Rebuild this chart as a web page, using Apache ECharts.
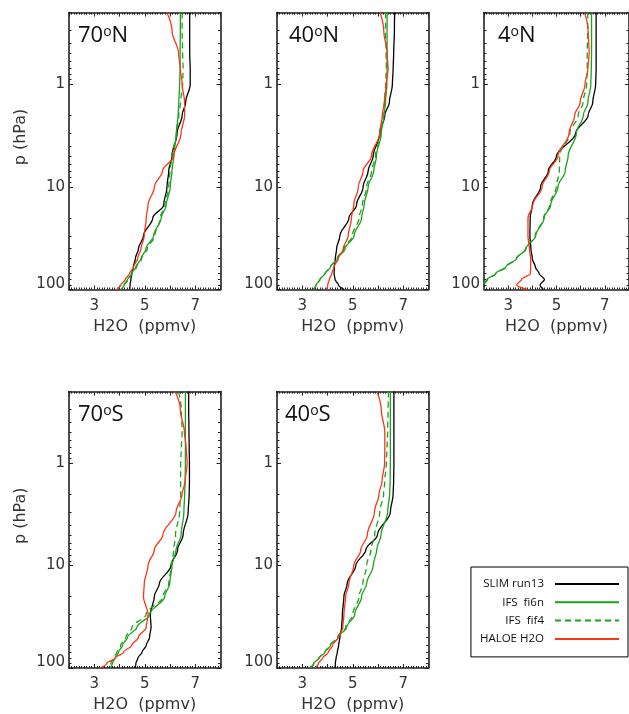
<!DOCTYPE html>
<html>
<head>
<meta charset="utf-8">
<script src="https://cdn.jsdelivr.net/npm/echarts@6.0.0/dist/echarts.min.js"></script>
<style>html,body{margin:0;padding:0;background:#fff}#c{width:629px;height:714px}</style>
</head>
<body>
<div id="c"></div>
<script>
// ---- data ----
const pressure = [0.2, 0.3, 0.5, 0.7, 1, 1.5, 2, 3, 5, 7, 10, 15, 20, 30, 40, 50, 60, 70, 80, 90, 100];
const xTickLabels = [3, 5, 7];
const yTickLabels = [1, 10, 100];
const yMinorTicks = [0.2, 0.3, 0.4, 0.5, 0.6, 0.7, 0.8, 0.9, 2, 3, 4, 5, 6, 7, 8, 9, 20, 30, 40, 50, 60, 70, 80, 90];
const seriesNames = ['SLIM run13', 'IFS  fi6n', 'IFS  fif4', 'HALOE H2O'];
const panelLats = ['70', '40', '4', '70', '40'];
const panelHemis = ['N', 'N', 'N', 'S', 'S'];

const slim_70N  = [6.78, 6.78, 6.78, 6.80, 6.80, 6.62, 6.48, 6.28, 6.08, 5.95, 5.88, 5.75, 5.32, 4.95, 4.75, 4.63, 4.55, 4.49, 4.45, 4.42, 4.40];
const fi6n_70N  = [6.41, 6.41, 6.40, 6.40, 6.38, 6.35, 6.32, 6.25, 6.15, 6.08, 6.01, 5.85, 5.65, 5.35, 5.05, 4.85, 4.65, 4.48, 4.32, 4.18, 4.05];
const fif4_70N  = [6.48, 6.48, 6.50, 6.52, 6.50, 6.42, 6.35, 6.25, 6.08, 6.00, 5.95, 5.80, 5.62, 5.40, 5.10, 4.88, 4.68, 4.50, 4.35, 4.20, 4.08];
const haloe_70N = [5.88, 6.08, 6.34, 6.41, 6.48, 6.58, 6.58, 6.44, 6.15, 5.70, 5.38, 5.13, 5.06, 4.98, 4.85, 4.72, 4.56, 4.40, 4.23, 4.05, 3.89];

const slim_40N  = [6.66, 6.65, 6.62, 6.60, 6.57, 6.45, 6.27, 6.07, 5.81, 5.61, 5.41, 5.15, 4.85, 4.49, 4.36, 4.31, 4.27, 4.26, 4.30, 4.43, 4.66];
const fi6n_40N  = [6.36, 6.36, 6.36, 6.36, 6.35, 6.30, 6.24, 6.13, 5.94, 5.83, 5.61, 5.45, 5.35, 5.05, 4.70, 4.40, 4.12, 3.90, 3.70, 3.55, 3.44];
const fif4_40N  = [6.30, 6.30, 6.32, 6.33, 6.30, 6.25, 6.20, 6.10, 5.90, 5.75, 5.55, 5.38, 5.25, 4.98, 4.65, 4.38, 4.12, 3.90, 3.70, 3.55, 3.44];
const haloe_40N = [6.09, 6.23, 6.36, 6.40, 6.33, 6.25, 6.17, 6.07, 5.74, 5.41, 5.22, 5.04, 4.95, 4.82, 4.62, 4.43, 4.26, 4.17, 4.07, 4.01, 3.97];

const slim_4N   = [6.64, 6.64, 6.64, 6.64, 6.62, 6.50, 6.31, 5.79, 5.00, 4.66, 4.34, 4.00, 3.91, 3.90, 3.94, 4.00, 4.12, 4.28, 4.50, 4.32, 4.46];
const fi6n_4N   = [6.45, 6.45, 6.45, 6.44, 6.42, 6.30, 6.11, 5.82, 5.48, 5.36, 5.06, 4.76, 4.49, 4.14, 3.74, 3.35, 2.91, 2.48, 2.12, 1.90, 1.70];
const fif4_4N   = [6.29, 6.29, 6.27, 6.27, 6.25, 6.10, 5.90, 5.55, 5.13, 5.12, 4.99, 4.72, 4.47, 4.12, 3.72, 3.34, 2.92, 2.50, 2.15, 2.00, 2.02];
const haloe_4N  = [6.16, 6.31, 6.35, 6.30, 6.18, 5.98, 5.75, 5.52, 5.06, 4.70, 4.40, 4.02, 3.82, 3.82, 3.88, 3.93, 3.93, 3.92, 3.55, 3.35, 3.80];

const slim_70S  = [6.74, 6.74, 6.75, 6.76, 6.77, 6.77, 6.76, 6.72, 6.52, 6.30, 6.04, 5.58, 5.38, 5.22, 5.25, 5.19, 5.06, 4.89, 4.73, 4.65, 4.62];
const fi6n_70S  = [6.61, 6.61, 6.61, 6.61, 6.61, 6.60, 6.58, 6.55, 6.44, 6.24, 6.08, 5.99, 5.79, 5.19, 4.69, 4.32, 4.12, 3.96, 3.83, 3.72, 3.63];
const fif4_70S  = [6.34, 6.45, 6.48, 6.45, 6.42, 6.42, 6.42, 6.38, 6.22, 6.15, 6.05, 5.95, 5.72, 5.05, 4.50, 4.25, 4.05, 3.90, 3.76, 3.66, 3.58];
const haloe_70S = [6.21, 6.41, 6.57, 6.64, 6.68, 6.60, 6.48, 6.24, 5.72, 5.38, 5.13, 4.98, 4.95, 5.13, 5.06, 4.75, 4.49, 4.16, 3.83, 3.50, 3.23];

const slim_40S  = [6.63, 6.63, 6.63, 6.63, 6.63, 6.62, 6.60, 6.49, 5.98, 5.52, 5.12, 4.78, 4.65, 4.59, 4.56, 4.49, 4.44, 4.39, 4.34, 4.31, 4.30];
const fi6n_40S  = [6.49, 6.49, 6.49, 6.49, 6.49, 6.48, 6.46, 6.38, 6.12, 5.95, 5.81, 5.55, 5.35, 5.08, 4.76, 4.43, 4.12, 3.90, 3.66, 3.45, 3.31];
const fif4_40S  = [6.42, 6.40, 6.38, 6.36, 6.33, 6.27, 6.22, 6.07, 5.87, 5.72, 5.55, 5.40, 5.25, 5.00, 4.72, 4.40, 4.10, 3.88, 3.66, 3.47, 3.33];
const haloe_40S = [5.96, 6.13, 6.27, 6.27, 6.26, 6.16, 6.04, 5.86, 5.58, 5.32, 5.04, 4.85, 4.72, 4.65, 4.61, 4.43, 4.20, 4.03, 3.81, 3.64, 3.51];

const panelData = [
  [slim_70N, fi6n_70N, fif4_70N, haloe_70N],
  [slim_40N, fi6n_40N, fif4_40N, haloe_40N],
  [slim_4N, fi6n_4N, fif4_4N, haloe_4N],
  [slim_70S, fi6n_70S, fif4_70S, haloe_70S],
  [slim_40S, fi6n_40S, fif4_40S, haloe_40S]
];

// ---- layout / style ----
const gridLeft = [69, 277, 484, 69, 277];
const gridTop = [12.6, 12.6, 12.6, 391.6, 391.6];
const titleLeft = [78, 289, 498, 78, 285];
const GW = 151.5, GH = 276.9;
const AX = '#222';
const lineColors = ['#000000', '#1aa31a', '#1aa31a', '#ff3316'];
const lineTypes = ['solid', 'solid', [6, 4], 'solid'];
const tickFont = {fontFamily: 'DejaVu Sans', fontSize: 15, color: '#333'};

const grids = [], xAxes = [], yAxes = [], series = [], titles = [];

for (let i = 0; i < 5; i++) {
  grids.push({left: gridLeft[i], top: gridTop[i], width: GW, height: GH, containLabel: false});
  const xBase = {
    gridIndex: i, type: 'value', min: 2, max: 8, interval: 1,
    axisLine: {show: true, onZero: false, lineStyle: {color: AX, width: 1.6}},
    axisTick: {show: true, inside: true, length: 4, lineStyle: {color: AX, width: 1}},
    minorTick: {show: true, splitNumber: 10, length: 2, lineStyle: {color: AX, width: 1}},
    splitLine: {show: false}, minorSplitLine: {show: false}
  };
  xAxes.push(Object.assign({}, xBase, {
    position: 'bottom',
    axisLabel: Object.assign({show: true, customValues: xTickLabels, margin: 9}, tickFont),
    name: 'H2O  (ppmv)', nameLocation: 'middle', nameGap: 29,
    nameTextStyle: {fontFamily: 'DejaVu Sans', fontSize: 16, color: '#333'}
  }));
  xAxes.push(Object.assign({}, xBase, {position: 'top', axisLabel: {show: false}}));

  const yBase = {
    gridIndex: i, type: 'log', logBase: 10, min: 0.2, max: 100, inverse: true,
    splitLine: {show: false}, minorTick: {show: false}
  };
  const majorTick = {show: true, inside: true, length: 4, customValues: yTickLabels, lineStyle: {color: AX, width: 1}};
  const minorTickY = {show: true, inside: true, length: 2.5, customValues: yMinorTicks, lineStyle: {color: AX, width: 1}};
  const leftMajor = Object.assign({}, yBase, {
    position: 'left',
    axisLine: {show: true, onZero: false, lineStyle: {color: AX, width: 1.6}},
    axisTick: majorTick,
    axisLabel: Object.assign({
      show: true, customValues: yTickLabels, margin: 4,
      formatter: function (v) { return Math.round(v) === 100 ? '{s|100}' : String(Math.round(v)); },
      rich: {s: Object.assign({padding: [0, 0, 11, 0]}, tickFont)}
    }, tickFont)
  });
  if (i === 0 || i === 3) {
    leftMajor.name = 'p (hPa)';
    leftMajor.nameLocation = 'middle';
    leftMajor.nameGap = 40;
    leftMajor.nameTextStyle = {fontFamily: 'DejaVu Sans', fontSize: 16, color: '#333', padding: [0, 0, 0, 28]};
  }
  yAxes.push(leftMajor);
  yAxes.push(Object.assign({}, yBase, {position: 'left', axisLine: {show: false}, axisTick: minorTickY, axisLabel: {show: false}}));
  yAxes.push(Object.assign({}, yBase, {position: 'right', axisLine: {show: true, onZero: false, lineStyle: {color: AX, width: 1.6}}, axisTick: majorTick, axisLabel: {show: false}}));
  yAxes.push(Object.assign({}, yBase, {position: 'right', axisLine: {show: false}, axisTick: minorTickY, axisLabel: {show: false}}));

  for (let s = 0; s < 4; s++) {
    series.push({
      type: 'line', name: seriesNames[s],
      xAxisIndex: 2 * i, yAxisIndex: 4 * i,
      data: panelData[i][s].map((x, k) => [x, pressure[k]]),
      showSymbol: false, symbol: 'none', smooth: 0.35, smoothMonotone: 'y',
      clip: true, silent: true,
      color: lineColors[s],
      lineStyle: {color: lineColors[s], width: 1.3, type: lineTypes[s]},
      emphasis: {disabled: true}
    });
  }

  titles.push({
    text: '{a|' + panelLats[i] + '}{b|o}{a|' + panelHemis[i] + '}',
    left: titleLeft[i], top: gridTop[i] + 12, padding: 0,
    textStyle: {
      fontWeight: 'normal',
      rich: {
        a: {fontFamily: 'Open Sans', fontSize: 22, fontWeight: 'normal', color: '#111'},
        b: {fontFamily: 'Open Sans', fontSize: 14, fontWeight: 'normal', color: '#111', verticalAlign: 'top'}
      }
    }
  });
}

const chart = echarts.init(document.getElementById('c'), null, {renderer: 'canvas'});
chart.setOption({
  animation: false,
  backgroundColor: '#fff',
  title: titles,
  grid: grids,
  xAxis: xAxes,
  yAxis: yAxes,
  legend: {
    orient: 'vertical', align: 'right', right: 1, top: 567,
    padding: [11, 8, 12, 9], itemWidth: 64, itemHeight: 12, itemGap: 6.3,
    borderColor: '#000', borderWidth: 1, borderRadius: 0,
    selectedMode: false,
    itemStyle: {opacity: 0},
    textStyle: {fontFamily: 'Open Sans', fontSize: 11.5, color: '#111', width: 70, padding: [0, 6, 0, 0]},
    data: seriesNames
  },
  series: series
});
</script>
</body>
</html>
